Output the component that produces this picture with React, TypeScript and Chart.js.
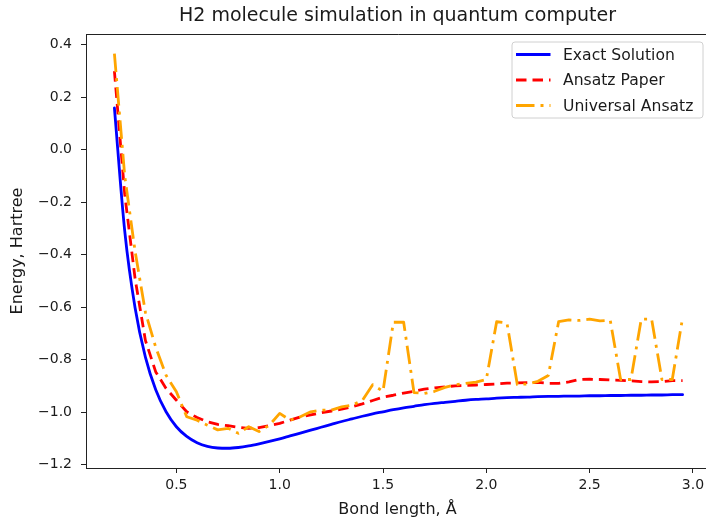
import React, { useEffect, useRef } from 'react';
import { Chart, registerables } from 'chart.js';

Chart.register(...registerables);

const bondLengths = [
  0.2, 0.25, 0.3, 0.35, 0.4, 0.45, 0.5, 0.55, 0.6, 0.65, 0.7, 0.75, 0.8, 0.85,
  0.9, 0.95, 1.0, 1.05, 1.1, 1.15, 1.2, 1.25, 1.3, 1.35, 1.4, 1.45, 1.5, 1.55,
  1.6, 1.65, 1.7, 1.75, 1.8, 1.85, 1.9, 1.95, 2.0, 2.05, 2.1, 2.15, 2.2, 2.25,
  2.3, 2.35, 2.4, 2.45, 2.5, 2.55, 2.6, 2.65, 2.7, 2.75, 2.8, 2.85, 2.9, 2.95,
];

const exactSolution = [
  0.160, -0.310, -0.602, -0.790, -0.914, -0.998, -1.055, -1.092, -1.116, -1.130,
  -1.136, -1.137, -1.134, -1.128, -1.120, -1.111, -1.101, -1.090, -1.079, -1.068,
  -1.057, -1.046, -1.035, -1.025, -1.015, -1.006, -0.998, -0.990, -0.983, -0.977,
  -0.971, -0.966, -0.962, -0.958, -0.954, -0.951, -0.949, -0.946, -0.944, -0.943,
  -0.942, -0.940, -0.939, -0.939, -0.938, -0.938, -0.937, -0.937, -0.936, -0.936,
  -0.935, -0.935, -0.934, -0.934, -0.933, -0.933,
];

const ansatzPaper = [
  0.300, -0.170, -0.490, -0.726, -0.846, -0.909, -0.954, -0.998, -1.020, -1.036,
  -1.046, -1.051, -1.057, -1.061, -1.058, -1.051, -1.042, -1.030, -1.018, -1.010,
  -1.002, -0.995, -0.988, -0.979, -0.968, -0.955, -0.942, -0.935, -0.927, -0.920,
  -0.912, -0.907, -0.903, -0.899, -0.898, -0.896, -0.894, -0.892, -0.889, -0.888,
  -0.887, -0.886, -0.890, -0.890, -0.884, -0.875, -0.874, -0.875, -0.877, -0.878,
  -0.880, -0.883, -0.884, -0.883, -0.879, -0.879,
];

const universalAnsatz = [
  0.366, -0.100, -0.386, -0.619, -0.752, -0.859, -0.922, -1.017, -1.030, -1.049,
  -1.067, -1.061, -1.080, -1.055, -1.073, -1.049, -1.004, -1.030, -1.017, -0.998,
  -0.992, -0.992, -0.979, -0.973, -0.955, -0.895, -0.920, -0.657, -0.657, -0.925,
  -0.928, -0.920, -0.905, -0.895, -0.890, -0.885, -0.875, -0.655, -0.660, -0.894,
  -0.892, -0.882, -0.860, -0.655, -0.648, -0.650, -0.645, -0.652, -0.650, -0.875,
  -0.875, -0.645, -0.645, -0.875, -0.875, -0.640,
];

const xTicks = [0.5, 1.0, 1.5, 2.0, 2.5, 3.0];
const yTicks = [-1.2, -1.0, -0.8, -0.6, -0.4, -0.2, 0.0, 0.2, 0.4];

const titleText = 'H2 molecule simulation in quantum computer';
const xLabel = 'Bond length, Å';
const yLabel = 'Energy, Hartree';
const seriesNames = ['Exact Solution', 'Ansatz Paper', 'Universal Ansatz'];
const seriesColors = ['#0000ff', '#ff0000', '#ffa500'];
const seriesDashes: number[][] = [[], [10.5, 6], [18.5, 6, 3, 6]];

const FONT = '"DejaVu Sans", sans-serif';
const TEXT = '#1a1a1a';

export default function App() {
  const ref = useRef<HTMLCanvasElement>(null);

  useEffect(() => {
    const canvas = ref.current;
    if (!canvas) return;
    const allY = [...exactSolution, ...ansatzPaper, ...universalAnsatz];
    const yLo = Math.min(...allY);
    const yHi = Math.max(...allY);
    const ym = (yHi - yLo) * 0.05;
    const xLo = bondLengths[0];
    const xHi = bondLengths[bondLengths.length - 1];
    const xm = (xHi - xLo) * 0.05;
    const toPts = (arr: number[]) => arr.map((y, i) => ({ x: bondLengths[i], y }));
    const seriesData = [exactSolution, ansatzPaper, universalAnsatz];

    const decor = {
      id: 'decor',
      afterDraw(chart: any) {
        const { ctx, chartArea: a } = chart;
        ctx.save();
        // frame (top and right spines)
        ctx.strokeStyle = '#222';
        ctx.lineWidth = 1;
        ctx.beginPath();
        ctx.moveTo(a.left, Math.round(a.top) + 0.5);
        ctx.lineTo(Math.round(a.right) + 0.5, Math.round(a.top) + 0.5);
        ctx.lineTo(Math.round(a.right) + 0.5, a.bottom);
        ctx.stroke();

        // title
        ctx.fillStyle = TEXT;
        ctx.textAlign = 'center';
        ctx.textBaseline = 'middle';
        ctx.font = `19px ${FONT}`;
        ctx.fillText(titleText, (a.left + a.right) / 2 - 1, 16);

        // axis labels
        ctx.font = `16px ${FONT}`;
        ctx.fillText(xLabel, (a.left + a.right) / 2 - 1, 510);
        ctx.save();
        ctx.translate(18, (a.top + a.bottom) / 2);
        ctx.rotate(-Math.PI / 2);
        ctx.fillText(yLabel, 0, 0);
        ctx.restore();

        // legend
        const lw = 191;
        const lh = 76;
        const lx = a.right - 8 - lw;
        const ly = a.top + 8;
        ctx.beginPath();
        const r = 3;
        ctx.moveTo(lx + r, ly);
        ctx.arcTo(lx + lw, ly, lx + lw, ly + lh, r);
        ctx.arcTo(lx + lw, ly + lh, lx, ly + lh, r);
        ctx.arcTo(lx, ly + lh, lx, ly, r);
        ctx.arcTo(lx, ly, lx + lw, ly, r);
        ctx.closePath();
        ctx.fillStyle = 'rgba(255,255,255,0.8)';
        ctx.fill();
        ctx.strokeStyle = '#d0d0d0';
        ctx.lineWidth = 1;
        ctx.stroke();

        ctx.font = `15.6px ${FONT}`;
        ctx.textAlign = 'left';
        ctx.textBaseline = 'middle';
        seriesNames.forEach((name, i) => {
          const yy = ly + 12.5 + i * 25.5;
          ctx.save();
          ctx.strokeStyle = seriesColors[i];
          ctx.lineWidth = 2.8;
          ctx.lineCap = 'butt';
          ctx.setLineDash(seriesDashes[i]);
          ctx.beginPath();
          ctx.moveTo(lx + 4, yy);
          ctx.lineTo(lx + 38.5, yy);
          ctx.stroke();
          ctx.restore();
          ctx.fillStyle = TEXT;
          ctx.fillText(name, lx + 51, yy + 1);
        });
        ctx.restore();
      },
    };

    const chart = new Chart(canvas, {
      type: 'line',
      data: {
        datasets: seriesNames.map((name, i) => ({
          label: name,
          data: toPts(seriesData[i]),
          borderColor: seriesColors[i],
          backgroundColor: seriesColors[i],
          borderWidth: 2.8,
          borderDash: seriesDashes[i],
          borderCapStyle: i === 0 ? 'round' : 'butt',
          borderJoinStyle: 'round',
          pointRadius: 0,
          tension: 0,
          cubicInterpolationMode: i === 0 ? 'monotone' : 'default',
          fill: false,
          order: 3 - i,
        })),
      },
      options: {
        responsive: false,
        maintainAspectRatio: false,
        animation: false,
        devicePixelRatio: 1,
        layout: { padding: { left: 0, top: 34, right: 9, bottom: 0 } },
        plugins: {
          legend: { display: false },
          title: { display: false },
          tooltip: { enabled: false },
        },
        scales: {
          x: {
            type: 'linear',
            min: xLo - xm,
            max: xHi + xm,
            afterFit: (s: any) => { s.height = 55; },
            afterBuildTicks: (s: any) => { s.ticks = xTicks.map((v) => ({ value: v })); },
            grid: { display: true, drawOnChartArea: false, drawTicks: true, tickLength: 5, color: '#222', lineWidth: 1 },
            border: { display: true, color: '#222', width: 1 },
            ticks: {
              font: { family: FONT, size: 14 },
              color: TEXT,
              padding: 4,
              maxRotation: 0,
              autoSkip: false,
              callback: (v: any) => Number(v).toFixed(1),
            },
          },
          y: {
            type: 'linear',
            min: yLo - ym,
            max: yHi + ym,
            afterFit: (s: any) => { s.width = 86; },
            afterBuildTicks: (s: any) => { s.ticks = yTicks.map((v) => ({ value: v })); },
            grid: { display: true, drawOnChartArea: false, drawTicks: true, tickLength: 5, color: '#222', lineWidth: 1 },
            border: { display: true, color: '#222', width: 1 },
            ticks: {
              font: { family: FONT, size: 14 },
              color: TEXT,
              padding: 9,
              autoSkip: false,
              callback: (v: any) => Number(v).toFixed(1).replace('-', '\u2212'),
            },
          },
        },
      },
      plugins: [decor],
    } as any);

    return () => chart.destroy();
  }, []);

  return (
    <div style={{ position: 'fixed', left: 0, top: 0, width: 706, height: 523, overflow: 'hidden', background: '#fff' }}>
      <canvas ref={ref} width={720} height={523} style={{ width: 720, height: 523, display: 'block' }} />
    </div>
  );
}
